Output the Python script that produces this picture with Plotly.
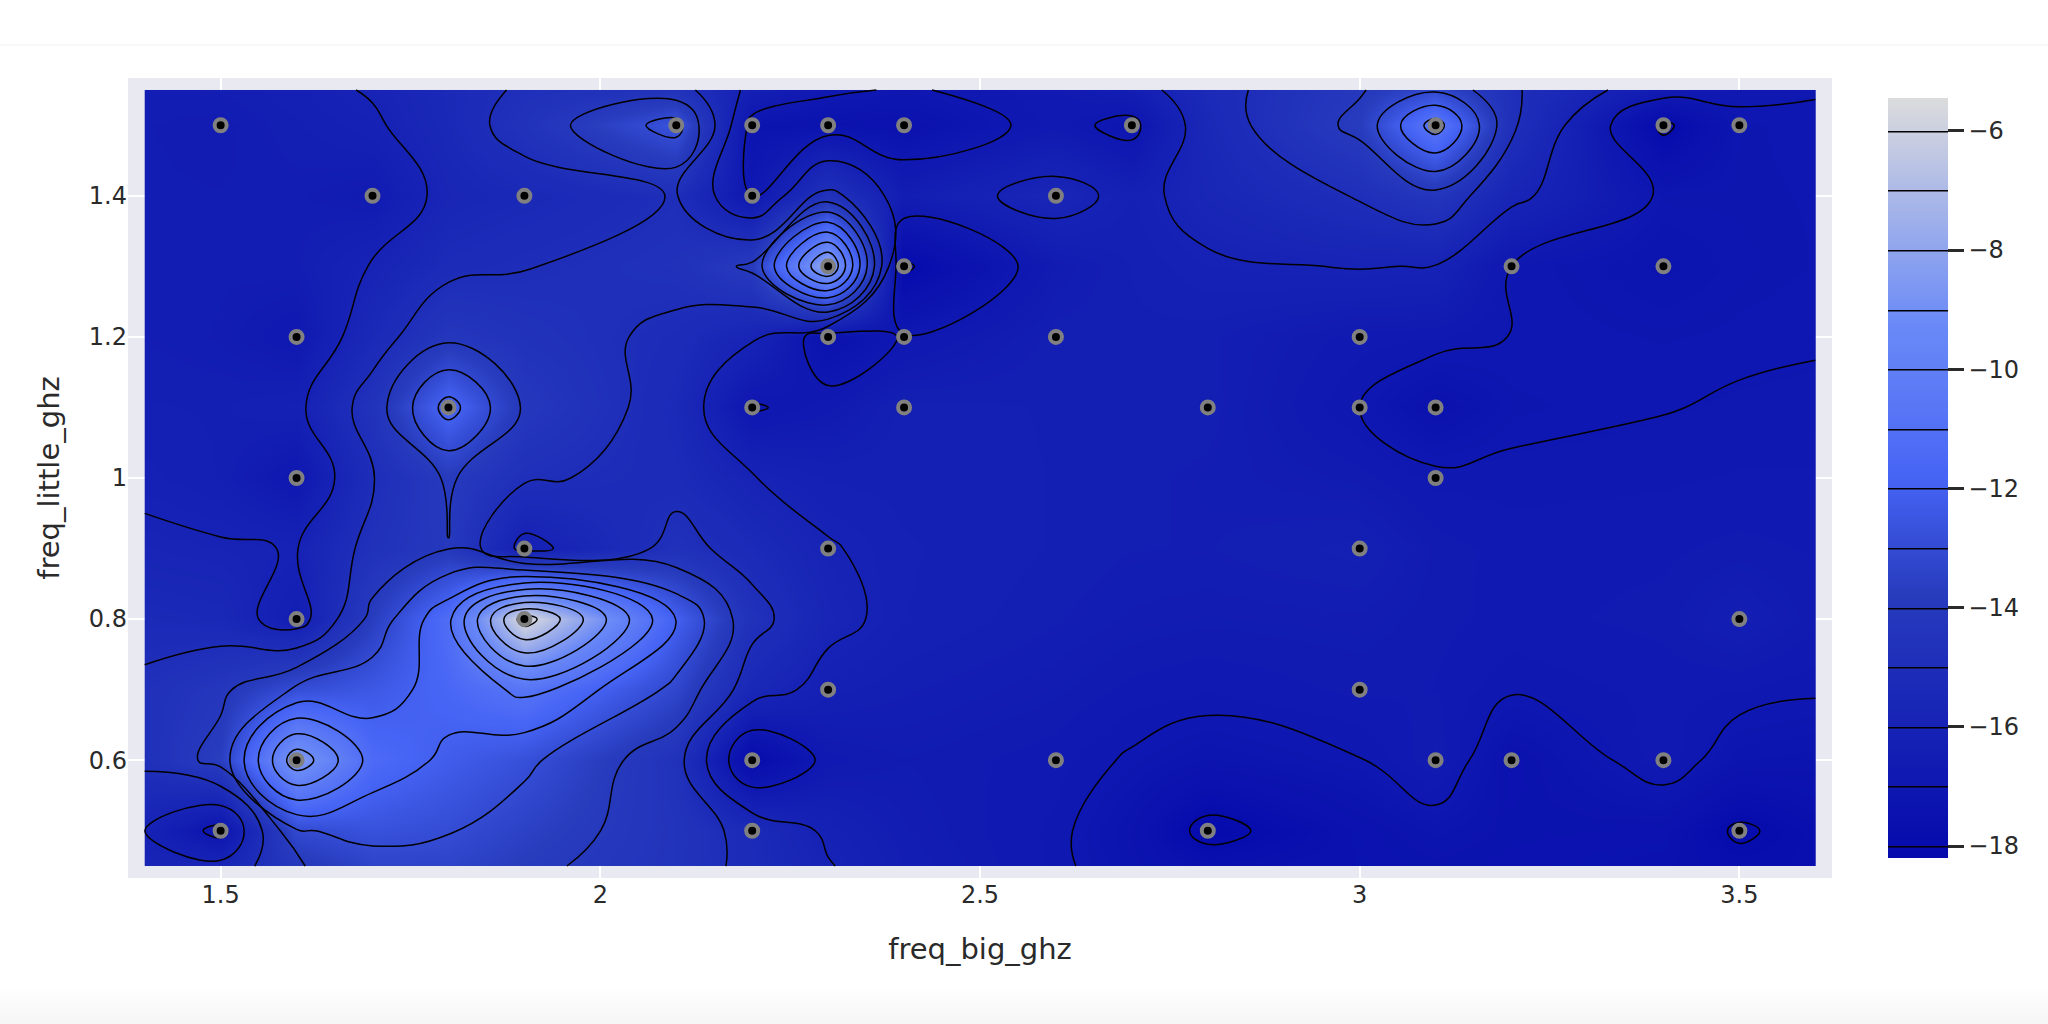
import plotly.graph_objects as go

freq_big_ghz = [1.5,2.1,2.2,2.3,2.4,2.7,3.1,3.4,3.5,
                1.7,1.9,2.2,2.6,
                2.3,2.4,3.2,3.4,
                1.6,2.3,2.4,2.6,3.0,
                1.8,2.2,2.4,2.8,3.0,3.1,
                1.6,3.1,
                1.9,2.3,3.0,
                1.6,1.9,3.5,
                2.3,3.0,
                1.6,2.2,2.6,3.1,3.2,3.4,
                1.5,2.2,2.8,3.5]
freq_little_ghz = [1.5]*9 + [1.4]*4 + [1.3]*4 + [1.2]*5 + [1.1]*6 + [1.0]*2 + [0.9]*3 + [0.8]*3 + [0.7]*2 + [0.6]*6 + [0.5]*4
objective = [-16.6,-12.6,-17.3,-17.4,-17.5,-17.2,-10.5,-18.15,-17.1,
             -16.7,-15.5,-17.0,-15.7,
             -7.6,-18.1,-17.0,-17.3,
             -16.9,-17.5,-16.95,-16.4,-16.8,
             -11.6,-17.06,-16.3,-16.4,-17.0,-17.5,
             -16.98,-16.9,
             -16.3,-15.95,-16.3,
             -16.5,-5.45,-16.4,
             -16.3,-16.7,
             -8.3,-18.05,-16.8,-16.6,-17.5,-16.75,
             -17.3,-15.3,-18.2,-18.1]
z_low = -18.2
z_high = -5.45

x_pad = [1.4, 3.6]
y_pad = [0.45, 1.55]
x_ticks = [1.5, 2, 2.5, 3, 3.5]
y_ticks = [0.6, 0.8, 1, 1.2, 1.4]
x_title = "freq_big_ghz"
y_title = "freq_little_ghz"

blues = [[0, "rgb(5,10,172)"], [0.35, "rgb(40,60,190)"], [0.5, "rgb(70,100,245)"],
         [0.6, "rgb(90,120,245)"], [0.7, "rgb(106,137,247)"], [1, "rgb(220,220,220)"]]

xs = sorted(set(freq_big_ghz) | set(x_pad))
ys = sorted(set(freq_little_ghz) | set(y_pad))
lookup = {(a, b): c for a, b, c in zip(freq_big_ghz, freq_little_ghz, objective)}
zs = [[lookup.get((a, b)) for a in xs] for b in ys]

INK = "#2a2a2a"
fig = go.Figure()
fig.add_trace(go.Contour(
    x=xs, y=ys, z=zs, connectgaps=True, colorscale=blues, zmin=z_low, zmax=z_high,
    contours=dict(coloring="heatmap", start=-18, end=-6, size=1),
    line=dict(width=1.5, color="black", smoothing=1.3),
    hoverinfo="none",
    colorbar=dict(thickness=60, outlinewidth=0, ypad=20, xpad=20, x=1.021,
                  ticks="outside", ticklen=16, tickwidth=3, tickcolor=INK,
                  tickfont=dict(size=24, color=INK), tickvals=[-6,-8,-10,-12,-14,-16,-18]),
))
fig.add_trace(go.Scatter(
    x=freq_big_ghz, y=freq_little_ghz, mode="markers", showlegend=False, hoverinfo="none",
    marker=dict(color="black", size=12, line=dict(width=4, color="grey")),
))
shapes = [dict(type="line", xref="paper", yref="paper", x0=-0.08, x1=1.13, y0=1.04125, y1=1.04125,
               line=dict(color="#f7f7f7", width=2), layer="below")]
for i in range(10):
    g = 255 - i
    shapes.append(dict(type="rect", xref="paper", yref="paper", x0=-0.08, x1=1.13,
                       y0=-0.1325 - (i + 1) * 0.005, y1=-0.1325 - i * 0.005,
                       fillcolor=f"rgb({g},{g},{g})", line=dict(width=0), layer="below"))
fig.update_layout(
    width=2048, height=1024, autosize=False,
    margin=dict(l=128, r=216, t=78, b=146, autoexpand=False),
    paper_bgcolor="white", plot_bgcolor="#E9E9F1",
    font=dict(family="DejaVu Sans", size=24, color=INK),
    showlegend=False, shapes=shapes,
    xaxis=dict(title=dict(text=x_title, font=dict(size=29), standoff=30), range=[1.378, 3.622],
               tickvals=x_ticks, ticktext=["1.5","2","2.5","3","3.5"],
               gridcolor="white", gridwidth=2, ticks="", zeroline=False, automargin=False),
    yaxis=dict(title=dict(text=y_title, font=dict(size=29), standoff=20), range=[0.433, 1.567],
               tickvals=y_ticks, ticktext=["0.6","0.8","1","1.2","1.4"],
               gridcolor="white", gridwidth=2, ticks="", zeroline=False, automargin=False),
)
fig.write_html("out.html", config={"displayModeBar": False},
               post_script="document.body.style.margin='0';document.documentElement.style.overflow='hidden';window.dispatchEvent(new Event('resize'));")
